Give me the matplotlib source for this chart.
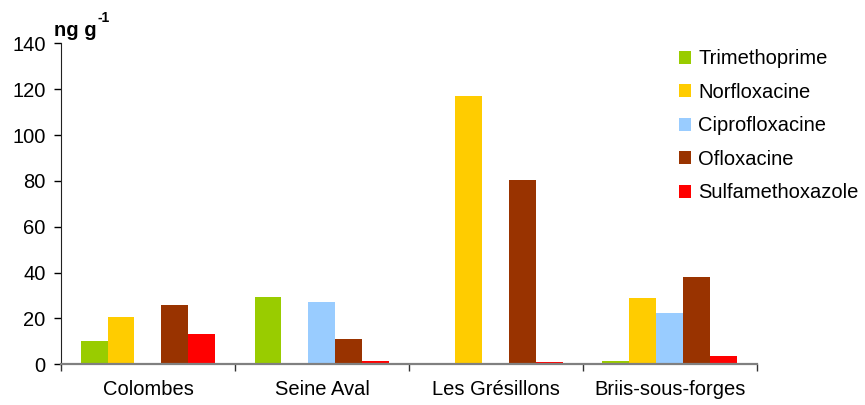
import numpy as np
import matplotlib.pyplot as plt
from matplotlib.patches import Patch

plt.rcParams['font.family'] = ['Liberation Sans', 'DejaVu Sans']

sites = ["Colombes", "Seine Aval", "Les Grésillons", "Briis-sous-forges"]
compounds = ["Trimethoprime", "Norfloxacine", "Ciprofloxacine", "Ofloxacine", "Sulfamethoxazole"]
trimethoprime = [10.0, 29.3, 0.0, 1.6]
norfloxacine = [20.6, 0.0, 117.2, 29.0]
ciprofloxacine = [0.0, 27.1, 0.0, 22.4]
ofloxacine = [25.8, 11.0, 80.2, 38.1]
sulfamethoxazole = [13.2, 1.6, 0.8, 3.7]
colours = ["#99CC00", "#FFCC00", "#99CCFF", "#993300", "#FF0000"]

series = [trimethoprime, norfloxacine, ciprofloxacine, ofloxacine, sulfamethoxazole]

fig = plt.figure(figsize=(8.65, 4.05), dpi=100)
ax = fig.add_axes([0.0705, 0.1005, 0.8045, 0.7925])

x = np.arange(len(sites))
w = 0.155
for i, (vals, col) in enumerate(zip(series, colours)):
    ax.bar(x + (i - 2) * w, vals, width=w, color=col, linewidth=0)

ax.set_xlim(-0.5, 3.5)
ax.set_ylim(0, 140)
ax.set_yticks(range(0, 141, 20))
ax.set_xticks(x)
ax.set_xticklabels(sites)
ax.set_xticks([-0.5, 0.5, 1.5, 2.5, 3.5], minor=True)
ax.tick_params(axis='x', which='major', length=0, pad=11, labelsize=14.5)
ax.tick_params(axis='x', which='minor', length=5, width=1, color='#333333', direction='out')
ax.tick_params(axis='y', length=5, width=1, pad=6, labelsize=14.5, direction='out')

ax.spines['top'].set_visible(False)
ax.spines['right'].set_visible(False)
ax.spines['left'].set_color('#222222')
ax.spines['bottom'].set_color('#808080')
ax.spines['bottom'].set_linewidth(1.6)

# unit label with superscript
fig.text(0.063, 0.912, "ng g", fontsize=14.5, fontweight='bold')
fig.text(0.1125, 0.945, "-1", fontsize=10, fontweight='bold')

handles = [Patch(facecolor=c, edgecolor='none') for c in colours]
fig.legend(handles, compounds, loc='upper left', bbox_to_anchor=(0.769, 0.913),
           frameon=False, fontsize=14.5, handlelength=0.6, handleheight=0.6,
           handletextpad=0.35, labelspacing=0.72, borderpad=0.2)

fig.savefig("out.png", dpi=100)
